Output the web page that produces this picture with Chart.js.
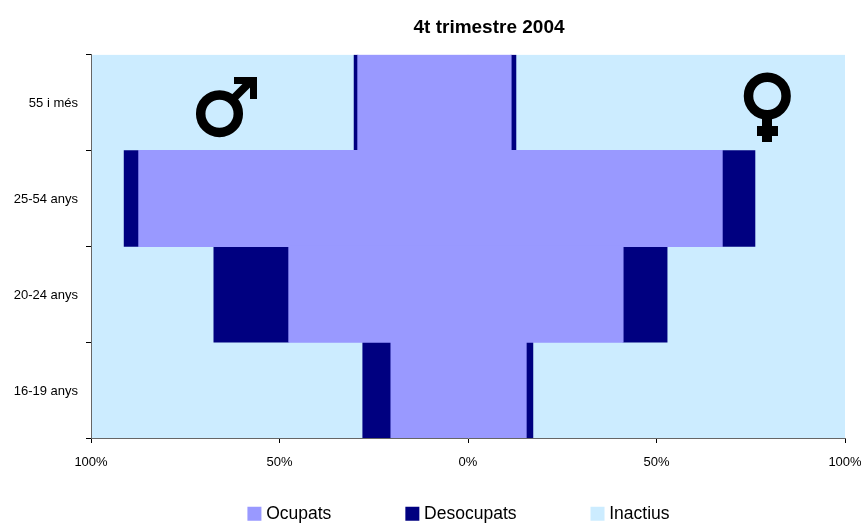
<!DOCTYPE html>
<html>
<head>
<meta charset="utf-8">
<style>
html,body{margin:0;padding:0;background:#fff;}
#wrap{width:861px;height:523px;position:relative;}
canvas{display:block;}
</style>
<script src="https://cdn.jsdelivr.net/npm/chart.js@4/dist/chart.umd.min.js"></script>
</head>
<body>
<div id="wrap"><canvas id="c" width="861" height="523"></canvas></div>
<script>
const categories = ["55 i més", "25-54 anys", "20-24 anys", "16-19 anys"];
const titleText = "4t trimestre 2004";
const seriesNames = ["Ocupats", "Desocupats", "Inactius"];
const xTicks = [-100, -50, 0, 50, 100];

const homesOcupats = [-29.2, -87.3, -47.5, -20.4];
const homesDesocupats = [-1.0, -3.9, -19.9, -7.5];
const homesInactius = [-69.8, -8.8, -32.6, -72.1];

const donesOcupats = [11.4, 67.4, 41.1, 15.4];
const donesDesocupats = [1.3, 8.7, 11.7, 1.8];
const donesInactius = [87.3, 23.9, 47.2, 82.8];

const seriesColors = ["#9999FF", "#000080", "#CCECFF"];
const FONT = "'Liberation Sans',Arial,sans-serif";

const placement = {
  id: "placement",
  beforeLayout(chart) {
    // The wide gap between legend entries must not take height from the plot.
    const lg = chart.legend;
    if (!lg._fitWrapped) {
      const fit = lg.fit;
      lg.fit = function () { fit.call(this); this.height = 47; };
      lg._fitWrapped = true;
    }
  },
  afterLayout(chart) {
    const lg = chart.legend, tt = chart.titleBlock;
    lg.top = 427;
    lg.left += 38; lg.right += 38;
    tt.left += 66.5; tt.right += 66.5;
  }
};

const symbols = {
  id: "symbols",
  afterDatasetsDraw(chart) {
    const c = chart.ctx;
    c.save();
    c.strokeStyle = "#000";
    c.fillStyle = "#000";
    // male sign
    c.lineWidth = 9.5;
    c.beginPath(); c.arc(219.5, 113.7, 18.8, 0, Math.PI * 2); c.stroke();
    c.lineWidth = 8;
    c.beginPath(); c.moveTo(232, 100); c.lineTo(250, 82); c.stroke();
    c.beginPath();
    c.moveTo(234, 77); c.lineTo(257, 77); c.lineTo(257, 99); c.lineTo(250, 99);
    c.lineTo(250, 84); c.lineTo(234, 84); c.closePath(); c.fill();
    // female sign
    c.lineWidth = 9.5;
    c.beginPath(); c.arc(767.3, 96, 18.8, 0, Math.PI * 2); c.stroke();
    c.fillRect(762, 117, 10, 25);
    c.fillRect(757, 126, 21, 10);
    c.restore();
  }
};

function ds(label, data, color, inflate) {
  return { label, data, backgroundColor: color, borderWidth: 0,
           barPercentage: 1, categoryPercentage: 1, inflateAmount: inflate };
}

new Chart(document.getElementById("c"), {
  type: "bar",
  data: {
    labels: categories,
    datasets: [
      ds(seriesNames[0], donesOcupats, seriesColors[0], 0.6),
      ds(seriesNames[1], donesDesocupats, seriesColors[1], 0.4),
      ds(seriesNames[2], donesInactius, seriesColors[2], 0.4),
      ds("Homes " + seriesNames[0], homesOcupats, seriesColors[0], 0.6),
      ds("Homes " + seriesNames[1], homesDesocupats, seriesColors[1], 0.4),
      ds("Homes " + seriesNames[2], homesInactius, seriesColors[2], 0.4)
    ]
  },
  plugins: [placement, symbols],
  options: {
    indexAxis: "y",
    responsive: false,
    animation: false,
    layout: { padding: { left: 0, right: 16, top: 0, bottom: 0 } },
    plugins: {
      tooltip: { enabled: false },
      title: {
        display: true, text: titleText, color: "#000",
        font: { family: FONT, size: 19, weight: "bold" },
        padding: { top: 16, bottom: 16 }
      },
      legend: {
        position: "bottom",
        labels: {
          generateLabels: () => seriesNames.map((t, i) => ({
            text: t, datasetIndex: i, fontColor: "#000",
            fillStyle: seriesColors[i], strokeStyle: seriesColors[i], lineWidth: 8
          })),
          boxWidth: 6, boxHeight: 6, padding: 78, color: "#000",
          font: { family: FONT, size: 17.5 }
        }
      }
    },
    scales: {
      x: {
        type: "linear", stacked: true, min: -100, max: 100,
        afterBuildTicks: (axis) => { axis.ticks = xTicks.map(v => ({ value: v })); },
        afterFit: (axis) => { axis.height = 38; axis.paddingLeft = 0; axis.paddingRight = 0; },
        ticks: {
          maxRotation: 0, color: "#000", padding: 12,
          font: { family: FONT, size: 13 },
          callback: (v) => Math.abs(v) + "%"
        },
        grid: { drawOnChartArea: false, tickLength: 5, tickColor: "#000", z: 1 },
        border: { color: "#666", width: 1, z: 1 }
      },
      y: {
        stacked: true,
        afterFit: (axis) => { axis.width = 91; },
        ticks: { color: "#000", padding: 8, labelOffset: 1, font: { family: FONT, size: 13 } },
        grid: { drawOnChartArea: false, offset: true, tickLength: 5, tickColor: "#000", z: 1 },
        border: { color: "#666", width: 1, z: 1 }
      }
    }
  }
});
</script>
</body>
</html>
